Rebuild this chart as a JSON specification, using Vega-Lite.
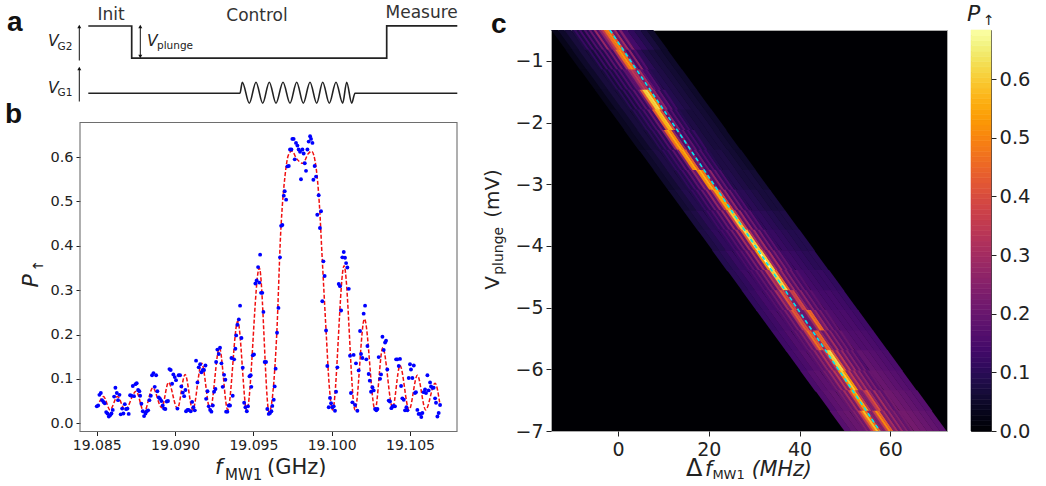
{"$schema":"https://vega.github.io/schema/vega-lite/v6.json","padding":{"left":5,"top":2,"right":0,"bottom":0},"bounds":"flush","spacing":24,"config":{"font":"DejaVu Sans","view":{"stroke":null},"axis":{"grid":false,"title":null,"domain":false,"labelColor":"#222","tickColor":"#222","labelFlush":false,"labelOverlap":false}},
"hconcat":[
{"width":447,"height":401.5,"resolve":{"scale":{"x":"independent","y":"independent"}},"layer":[
{"encoding":{"x":{"field":"t","type":"quantitative","axis":null,"scale":{"domain":[0,377],"range":[0,377],"nice":false,"zero":false}},"y":{"field":"v","type":"quantitative","axis":null,"scale":{"domain":[0,77.5],"range":[77.5,0],"nice":false,"zero":false}}},
"layer":[
{"data":{"values":[{"t":8.3,"v":81.5},{"t":51.7,"v":81.5},{"t":51.7,"v":49.3},{"t":306.7,"v":49.3},{"t":306.7,"v":81.7},{"t":377.3,"v":81.7}]},"mark":{"type":"line","color":"#222","strokeWidth":1.7}},
{"data":{"values":[{"t":8.3,"v":14.3},{"t":160,"v":14.3},{"t":162.3,"v":25.3},{"t":169.3,"v":4.3},{"t":176,"v":25.3},{"t":182.7,"v":4.3},{"t":189.3,"v":25.3},{"t":196,"v":4.3},{"t":203,"v":25.3},{"t":210,"v":4.3},{"t":216.7,"v":25.3},{"t":223.3,"v":4.3},{"t":230,"v":25.3},{"t":236.7,"v":4.3},{"t":242.7,"v":25.3},{"t":249.3,"v":4.3},{"t":256,"v":25.3},{"t":262.7,"v":4.3},{"t":266.7,"v":25.3},{"t":271.7,"v":4.3},{"t":275,"v":14.3},{"t":377.3,"v":14.3}]},"mark":{"type":"line","color":"#222","strokeWidth":1.6,"interpolate":"monotone"}},
{"data":{"values":[{"t":-0.7,"v":47,"v2":80},{"t":-0.7,"v":6,"v2":38},{"t":60.3,"v":51,"v2":80}]},"mark":{"type":"rule","color":"#111","strokeWidth":1},"encoding":{"y2":{"field":"v2"}}},
{"data":{"values":[{"t":-0.7,"v":81},{"t":-0.7,"v":39},{"t":60.3,"v":81}]},"mark":{"type":"point","shape":"triangle-up","filled":true,"opacity":1,"color":"#111","size":16}},
{"data":{"values":[{"t":60.3,"v":51}]},"mark":{"type":"point","shape":"triangle-down","filled":true,"opacity":1,"color":"#111","size":16}},
{"data":{"values":[{"t":31,"v":87.5,"s":"Init"},{"t":177,"v":87,"s":"Control"},{"t":341.7,"v":89.5,"s":"Measure"}]},"mark":{"type":"text","fontSize":17,"color":"#333","align":"center","baseline":"alphabetic"},"encoding":{"text":{"field":"s"}}},
{"data":{"values":[{"t":-32,"v":62,"s":"V"},{"t":-32,"v":15,"s":"V"},{"t":67,"v":62,"s":"V"}]},"mark":{"type":"text","fontSize":15.5,"fontStyle":"italic","color":"#222","align":"left","baseline":"alphabetic"},"encoding":{"text":{"field":"s"}}},
{"data":{"values":[{"t":-22.5,"v":58,"s":"G2"},{"t":-22.5,"v":12,"s":"G1"},{"t":77,"v":58.5,"s":"plunge"}]},"mark":{"type":"text","fontSize":10.5,"color":"#222","align":"left","baseline":"alphabetic"},"encoding":{"text":{"field":"s"}}},
{"data":{"values":[{"t":-73,"v":77,"s":"a"},{"t":-75,"v":-15,"s":"b"}]},"mark":{"type":"text","fontSize":28,"font":"Liberation Sans","fontWeight":"bold","color":"#111","align":"left","baseline":"alphabetic"},"encoding":{"text":{"field":"s"}}}
]},
{"encoding":{"x":{"field":"f","type":"quantitative","scale":{"domain":[19.08393,19.108],"range":[0,377],"nice":false,"zero":false},"axis":{"orient":"bottom","values":[19.085,19.09,19.095,19.1,19.105],"format":".3f","labelFontSize":14,"tickSize":4,"labelPadding":3}},"y":{"field":"p","type":"quantitative","scale":{"domain":[-0.0187,0.678],"range":[401.5,92.5],"nice":false,"zero":false},"axis":{"orient":"left","values":[0,0.1,0.2,0.3,0.4,0.5,0.6],"format":".1f","labelFontSize":14.5,"tickSize":4,"labelPadding":3}}},
"layer":[
{"data":{"values":[{"f":19.08393,"f2":19.108,"p":-0.0187,"p2":0.678}]},"mark":{"type":"rect","fill":null,"stroke":"#6e6e6e","strokeWidth":1.1},"encoding":{"x2":{"field":"f2"},"y2":{"field":"p2"}}},
{"data":{"values":[{"f":19.08517,"p":0.048},{"f":19.08543,"p":0.06},{"f":19.08585,"p":0.03},{"f":19.08632,"p":0.06},{"f":19.08681,"p":0.03},{"f":19.08751,"p":0.072},{"f":19.08802,"p":0.025},{"f":19.08858,"p":0.08},{"f":19.08915,"p":0.035},{"f":19.08958,"p":0.092},{"f":19.09015,"p":0.033},{"f":19.09064,"p":0.11},{"f":19.09113,"p":0.03},{"f":19.0917,"p":0.135},{"f":19.09224,"p":0.03},{"f":19.09283,"p":0.17},{"f":19.09336,"p":0.03},{"f":19.094,"p":0.23},{"f":19.09458,"p":0.028},{"f":19.09538,"p":0.35},{"f":19.096,"p":0.025},{"f":19.09649,"p":0.2},{"f":19.09674,"p":0.427},{"f":19.09702,"p":0.558},{"f":19.09723,"p":0.604},{"f":19.09745,"p":0.614},{"f":19.09777,"p":0.596},{"f":19.09815,"p":0.586},{"f":19.09851,"p":0.608},{"f":19.09872,"p":0.613},{"f":19.099,"p":0.577},{"f":19.09921,"p":0.495},{"f":19.0994,"p":0.367},{"f":19.09964,"p":0.209},{"f":19.09985,"p":0.081},{"f":19.10006,"p":0.03},{"f":19.10079,"p":0.355},{"f":19.10149,"p":0.03},{"f":19.10209,"p":0.235},{"f":19.10277,"p":0.03},{"f":19.10326,"p":0.17},{"f":19.10389,"p":0.035},{"f":19.10436,"p":0.13},{"f":19.10494,"p":0.03},{"f":19.10547,"p":0.108},{"f":19.106,"p":0.03},{"f":19.1066,"p":0.09},{"f":19.10692,"p":0.04}]},"mark":{"type":"line","color":"#f01010","strokeWidth":1.5,"strokeDash":[4,2],"interpolate":"monotone"}},
{"data":{"values":[{"f":19.085,"p":0.038},{"f":19.08509,"p":0.04},{"f":19.08517,"p":0.064},{"f":19.08526,"p":0.068},{"f":19.08534,"p":0.052},{"f":19.08543,"p":0.048},{"f":19.08551,"p":0.045},{"f":19.0856,"p":0.025},{"f":19.08568,"p":0.022},{"f":19.08577,"p":0.015},{"f":19.08585,"p":0.018},{"f":19.08594,"p":0.022},{"f":19.08602,"p":0.03},{"f":19.08611,"p":0.06},{"f":19.08619,"p":0.08},{"f":19.08628,"p":0.068},{"f":19.08636,"p":0.052},{"f":19.08645,"p":0.064},{"f":19.08653,"p":0.02},{"f":19.08662,"p":0.033},{"f":19.0867,"p":0.022},{"f":19.08679,"p":0.043},{"f":19.08687,"p":0.032},{"f":19.08696,"p":0.033},{"f":19.08704,"p":0.021},{"f":19.08713,"p":0.063},{"f":19.08721,"p":0.062},{"f":19.0873,"p":0.084},{"f":19.08738,"p":0.061},{"f":19.08747,"p":0.088},{"f":19.08755,"p":0.09},{"f":19.08764,"p":0.075},{"f":19.08772,"p":0.072},{"f":19.08777,"p":0.062},{"f":19.08785,"p":0.044},{"f":19.08794,"p":0.027},{"f":19.08802,"p":0.016},{"f":19.08811,"p":0.022},{"f":19.08819,"p":0.027},{"f":19.08828,"p":0.029},{"f":19.08836,"p":0.052},{"f":19.08845,"p":0.062},{"f":19.08853,"p":0.108},{"f":19.08862,"p":0.113},{"f":19.0887,"p":0.082},{"f":19.08879,"p":0.108},{"f":19.08887,"p":0.072},{"f":19.08896,"p":0.058},{"f":19.08904,"p":0.055},{"f":19.08913,"p":0.05},{"f":19.08921,"p":0.04},{"f":19.0893,"p":0.033},{"f":19.08938,"p":0.032},{"f":19.08947,"p":0.049},{"f":19.08955,"p":0.05},{"f":19.08964,"p":0.122},{"f":19.08972,"p":0.12},{"f":19.08981,"p":0.089},{"f":19.08989,"p":0.11},{"f":19.08998,"p":0.104},{"f":19.09006,"p":0.097},{"f":19.09015,"p":0.033},{"f":19.09023,"p":0.108},{"f":19.09032,"p":0.108},{"f":19.0904,"p":0.083},{"f":19.09049,"p":0.069},{"f":19.09058,"p":0.061},{"f":19.09066,"p":0.075},{"f":19.0907,"p":0.027},{"f":19.09079,"p":0.03},{"f":19.09087,"p":0.03},{"f":19.091,"p":0.027},{"f":19.09109,"p":0.048},{"f":19.09117,"p":0.036},{"f":19.09126,"p":0.029},{"f":19.09134,"p":0.141},{"f":19.09143,"p":0.092},{"f":19.09151,"p":0.126},{"f":19.0916,"p":0.133},{"f":19.09168,"p":0.115},{"f":19.09177,"p":0.12},{"f":19.09185,"p":0.12},{"f":19.09194,"p":0.13},{"f":19.09198,"p":0.055},{"f":19.09207,"p":0.072},{"f":19.09215,"p":0.038},{"f":19.09224,"p":0.03},{"f":19.09232,"p":0.026},{"f":19.09241,"p":0.04},{"f":19.09249,"p":0.071},{"f":19.09258,"p":0.077},{"f":19.09262,"p":0.138},{"f":19.0927,"p":0.166},{"f":19.09279,"p":0.156},{"f":19.09287,"p":0.17},{"f":19.09296,"p":0.135},{"f":19.09304,"p":0.082},{"f":19.09313,"p":0.109},{"f":19.09321,"p":0.098},{"f":19.09326,"p":0.026},{"f":19.09334,"p":0.026},{"f":19.09343,"p":0.04},{"f":19.09351,"p":0.04},{"f":19.0936,"p":0.147},{"f":19.09368,"p":0.062},{"f":19.09377,"p":0.144},{"f":19.09385,"p":0.168},{"f":19.0939,"p":0.198},{"f":19.09398,"p":0.222},{"f":19.09407,"p":0.234},{"f":19.09415,"p":0.265},{"f":19.09424,"p":0.192},{"f":19.09432,"p":0.125},{"f":19.09441,"p":0.046},{"f":19.09449,"p":0.036},{"f":19.09458,"p":0.027},{"f":19.09466,"p":0.038},{"f":19.09475,"p":0.106},{"f":19.09483,"p":0.108},{"f":19.09487,"p":0.082},{"f":19.09496,"p":0.153},{"f":19.09504,"p":0.155},{"f":19.09513,"p":0.315},{"f":19.09521,"p":0.322},{"f":19.0953,"p":0.352},{"f":19.09538,"p":0.317},{"f":19.09543,"p":0.38},{"f":19.09549,"p":0.294},{"f":19.09557,"p":0.294},{"f":19.09564,"p":0.251},{"f":19.09572,"p":0.138},{"f":19.09581,"p":0.138},{"f":19.09589,"p":0.032},{"f":19.09598,"p":0.021},{"f":19.09606,"p":0.023},{"f":19.09615,"p":0.027},{"f":19.09621,"p":0.039},{"f":19.0963,"p":0.053},{"f":19.09636,"p":0.083},{"f":19.09642,"p":0.123},{"f":19.09651,"p":0.204},{"f":19.0966,"p":0.26},{"f":19.0967,"p":0.374},{"f":19.09677,"p":0.445},{"f":19.09685,"p":0.447},{"f":19.09694,"p":0.513},{"f":19.097,"p":0.523},{"f":19.09709,"p":0.504},{"f":19.09717,"p":0.579},{"f":19.09726,"p":0.58},{"f":19.09734,"p":0.617},{"f":19.09743,"p":0.617},{"f":19.09749,"p":0.641},{"f":19.09757,"p":0.641},{"f":19.09764,"p":0.595},{"f":19.09772,"p":0.632},{"f":19.09781,"p":0.626},{"f":19.09789,"p":0.617},{"f":19.09798,"p":0.612},{"f":19.09804,"p":0.55},{"f":19.09813,"p":0.617},{"f":19.09821,"p":0.608},{"f":19.09828,"p":0.586},{"f":19.09836,"p":0.569},{"f":19.09845,"p":0.617},{"f":19.09853,"p":0.635},{"f":19.09862,"p":0.647},{"f":19.09868,"p":0.641},{"f":19.09877,"p":0.632},{"f":19.09883,"p":0.549},{"f":19.09891,"p":0.58},{"f":19.099,"p":0.556},{"f":19.09908,"p":0.47},{"f":19.09917,"p":0.514},{"f":19.09925,"p":0.44},{"f":19.09932,"p":0.478},{"f":19.0994,"p":0.275},{"f":19.09947,"p":0.365},{"f":19.09955,"p":0.332},{"f":19.09964,"p":0.209},{"f":19.09972,"p":0.129},{"f":19.09981,"p":0.036},{"f":19.09989,"p":0.057},{"f":19.09996,"p":0.045},{"f":19.10004,"p":0.036},{"f":19.10013,"p":0.038},{"f":19.10021,"p":0.028},{"f":19.10028,"p":0.071},{"f":19.10036,"p":0.126},{"f":19.10045,"p":0.314},{"f":19.10053,"p":0.309},{"f":19.1006,"p":0.254},{"f":19.10068,"p":0.374},{"f":19.10077,"p":0.386},{"f":19.10085,"p":0.373},{"f":19.10092,"p":0.361},{"f":19.101,"p":0.351},{"f":19.10109,"p":0.303},{"f":19.10117,"p":0.152},{"f":19.10123,"p":0.068},{"f":19.10132,"p":0.047},{"f":19.1014,"p":0.154},{"f":19.10149,"p":0.041},{"f":19.10155,"p":0.135},{"f":19.10164,"p":0.028},{"f":19.10172,"p":0.119},{"f":19.10181,"p":0.208},{"f":19.10187,"p":0.156},{"f":19.10196,"p":0.147},{"f":19.10204,"p":0.247},{"f":19.10213,"p":0.265},{"f":19.10221,"p":0.144},{"f":19.10228,"p":0.174},{"f":19.10236,"p":0.111},{"f":19.10243,"p":0.096},{"f":19.10251,"p":0.071},{"f":19.1026,"p":0.081},{"f":19.10268,"p":0.074},{"f":19.10277,"p":0.032},{"f":19.10285,"p":0.029},{"f":19.10292,"p":0.032},{"f":19.103,"p":0.149},{"f":19.10309,"p":0.1},{"f":19.10315,"p":0.11},{"f":19.10324,"p":0.195},{"f":19.10332,"p":0.165},{"f":19.10341,"p":0.182},{"f":19.10347,"p":0.186},{"f":19.10355,"p":0.121},{"f":19.10364,"p":0.051},{"f":19.10372,"p":0.049},{"f":19.10381,"p":0.034},{"f":19.10389,"p":0.038},{"f":19.10396,"p":0.039},{"f":19.10404,"p":0.038},{"f":19.10411,"p":0.144},{"f":19.10419,"p":0.144},{"f":19.10428,"p":0.129},{"f":19.10436,"p":0.145},{"f":19.10443,"p":0.084},{"f":19.10451,"p":0.056},{"f":19.1046,"p":0.053},{"f":19.10468,"p":0.029},{"f":19.10477,"p":0.036},{"f":19.10483,"p":0.029},{"f":19.10492,"p":0.102},{"f":19.105,"p":0.133},{"f":19.10506,"p":0.121},{"f":19.10515,"p":0.102},{"f":19.10524,"p":0.13},{"f":19.10532,"p":0.068},{"f":19.10538,"p":0.07},{"f":19.10547,"p":0.03},{"f":19.10555,"p":0.021},{"f":19.10564,"p":0.021},{"f":19.10572,"p":0.014},{"f":19.10579,"p":0.023},{"f":19.10587,"p":0.07},{"f":19.10596,"p":0.076},{"f":19.10602,"p":0.068},{"f":19.10611,"p":0.108},{"f":19.10619,"p":0.074},{"f":19.10628,"p":0.092},{"f":19.10634,"p":0.083},{"f":19.10643,"p":0.08},{"f":19.10651,"p":0.08},{"f":19.1066,"p":0.056},{"f":19.10666,"p":0.046},{"f":19.10675,"p":0.015},{"f":19.10683,"p":0.023},{"f":19.10692,"p":0.041}]},"mark":{"type":"circle","color":"#0000ff","size":15,"opacity":1}},
{"data":{"values":[{"f":19.09255,"p":-0.1135,"s":"f"}]},"mark":{"type":"text","fontSize":21,"fontStyle":"italic","color":"#222","align":"left","baseline":"alphabetic"},"encoding":{"text":{"field":"s"}}},
{"data":{"values":[{"f":19.09319,"p":-0.127,"s":"MW1"}]},"mark":{"type":"text","fontSize":15,"color":"#222","align":"left","baseline":"alphabetic"},"encoding":{"text":{"field":"s"}}},
{"data":{"values":[{"f":19.09587,"p":-0.1135,"s":"(GHz)"}]},"mark":{"type":"text","fontSize":21,"color":"#222","align":"left","baseline":"alphabetic"},"encoding":{"text":{"field":"s"}}},
{"data":{"values":[{"f":19.08125,"p":0.306,"s":"P"}]},"mark":{"type":"text","fontSize":22,"fontStyle":"italic","angle":270,"color":"#222","align":"left","baseline":"alphabetic"},"encoding":{"text":{"field":"s"}}},
{"data":{"values":[{"f":19.08157,"p":0.342,"s":"↑"}]},"mark":{"type":"text","fontSize":14,"angle":270,"color":"#222","align":"left","baseline":"alphabetic"},"encoding":{"text":{"field":"s"}}}
]}
]},
{"width":396,"height":401,"view":{"fill":"#000004","stroke":"#aaaaaa"},"encoding":{"x":{"field":"f","type":"quantitative","scale":{"domain":[-14.76,72.5],"nice":false,"zero":false},"axis":{"values":[0,20,40,60],"labelFontSize":19,"tickSize":5,"labelPadding":4}},"y":{"field":"v","type":"quantitative","scale":{"domain":[-7,-0.5],"nice":false,"zero":false},"axis":{"values":[-1,-2,-3,-4,-5,-6,-7],"format":"d","labelFontSize":19,"tickSize":5,"labelPadding":3}}},
"layer":[
{"data":{"values":[
{"f":-12.38,"v":-0.66,"p":0.03},{"f":-10.95,"v":-0.66,"p":0.05},{"f":-9.52,"v":-0.66,"p":0.07},{"f":2.91,"v":-0.66,"p":0.14},{"f":4.34,"v":-0.66,"p":0.11},{"f":5.77,"v":-0.66,"p":0.09},{"f":7.2,"v":-0.66,"p":0.07},{"f":8.63,"v":-0.66,"p":0.05},
{"f":-9.15,"v":-0.99,"p":0.03},{"f":-7.72,"v":-0.99,"p":0.05},{"f":-6.29,"v":-0.99,"p":0.07},{"f":6.14,"v":-0.99,"p":0.1},{"f":7.57,"v":-0.99,"p":0.08},{"f":9,"v":-0.99,"p":0.07},{"f":10.43,"v":-0.99,"p":0.06},{"f":11.86,"v":-0.99,"p":0.05},
{"f":-5.92,"v":-1.31,"p":0.03},{"f":-4.49,"v":-1.31,"p":0.05},{"f":-3.06,"v":-1.31,"p":0.07},{"f":9.37,"v":-1.31,"p":0.09},{"f":10.8,"v":-1.31,"p":0.08},{"f":12.23,"v":-1.31,"p":0.07},{"f":13.66,"v":-1.31,"p":0.06},{"f":15.09,"v":-1.31,"p":0.05},
{"f":-2.68,"v":-1.64,"p":0.03},{"f":-1.25,"v":-1.64,"p":0.05},{"f":0.18,"v":-1.64,"p":0.07},{"f":12.61,"v":-1.64,"p":0.09},{"f":14.04,"v":-1.64,"p":0.08},{"f":15.47,"v":-1.64,"p":0.07},{"f":16.9,"v":-1.64,"p":0.06},{"f":18.33,"v":-1.64,"p":0.05},
{"f":0.55,"v":-1.96,"p":0.04},{"f":1.98,"v":-1.96,"p":0.05},{"f":3.41,"v":-1.96,"p":0.07},{"f":15.84,"v":-1.96,"p":0.08},{"f":17.27,"v":-1.96,"p":0.07},{"f":18.7,"v":-1.96,"p":0.07},{"f":20.13,"v":-1.96,"p":0.06},{"f":21.56,"v":-1.96,"p":0.05},
{"f":3.75,"v":-2.29,"p":0.04},{"f":5.18,"v":-2.29,"p":0.05},{"f":6.61,"v":-2.29,"p":0.07},{"f":19.04,"v":-2.29,"p":0.08},{"f":20.47,"v":-2.29,"p":0.07},{"f":21.9,"v":-2.29,"p":0.07},{"f":23.33,"v":-2.29,"p":0.06},{"f":24.76,"v":-2.29,"p":0.05},
{"f":7.05,"v":-2.61,"p":0.05},{"f":8.48,"v":-2.61,"p":0.06},{"f":9.91,"v":-2.61,"p":0.08},{"f":22.34,"v":-2.61,"p":0.08},{"f":23.77,"v":-2.61,"p":0.08},{"f":25.2,"v":-2.61,"p":0.07},{"f":26.63,"v":-2.61,"p":0.06},{"f":28.06,"v":-2.61,"p":0.05},
{"f":10.25,"v":-2.94,"p":0.05},{"f":11.68,"v":-2.94,"p":0.06},{"f":13.11,"v":-2.94,"p":0.08},{"f":25.54,"v":-2.94,"p":0.09},{"f":26.97,"v":-2.94,"p":0.08},{"f":28.4,"v":-2.94,"p":0.07},{"f":29.83,"v":-2.94,"p":0.07},{"f":31.26,"v":-2.94,"p":0.06},
{"f":13.45,"v":-3.26,"p":0.06},{"f":14.88,"v":-3.26,"p":0.07},{"f":16.31,"v":-3.26,"p":0.09},{"f":28.74,"v":-3.26,"p":0.1},{"f":30.17,"v":-3.26,"p":0.09},{"f":31.6,"v":-3.26,"p":0.08},{"f":33.03,"v":-3.26,"p":0.07},{"f":34.46,"v":-3.26,"p":0.07},
{"f":16.75,"v":-3.59,"p":0.07},{"f":18.18,"v":-3.59,"p":0.08},{"f":19.61,"v":-3.59,"p":0.1},{"f":32.04,"v":-3.59,"p":0.11},{"f":33.47,"v":-3.59,"p":0.1},{"f":34.9,"v":-3.59,"p":0.09},{"f":36.33,"v":-3.59,"p":0.08},{"f":37.76,"v":-3.59,"p":0.08},
{"f":19.95,"v":-3.91,"p":0.08},{"f":21.38,"v":-3.91,"p":0.09},{"f":22.81,"v":-3.91,"p":0.11},{"f":35.24,"v":-3.91,"p":0.12},{"f":36.67,"v":-3.91,"p":0.11},{"f":38.1,"v":-3.91,"p":0.1},{"f":39.53,"v":-3.91,"p":0.09},{"f":40.96,"v":-3.91,"p":0.09},
{"f":23.15,"v":-4.24,"p":0.09},{"f":24.58,"v":-4.24,"p":0.1},{"f":26.01,"v":-4.24,"p":0.12},{"f":38.44,"v":-4.24,"p":0.13},{"f":39.87,"v":-4.24,"p":0.12},{"f":41.3,"v":-4.24,"p":0.11},{"f":42.73,"v":-4.24,"p":0.1},{"f":44.16,"v":-4.24,"p":0.1},
{"f":26.45,"v":-4.56,"p":0.1},{"f":27.88,"v":-4.56,"p":0.11},{"f":29.31,"v":-4.56,"p":0.13},{"f":41.74,"v":-4.56,"p":0.14},{"f":43.17,"v":-4.56,"p":0.13},{"f":44.6,"v":-4.56,"p":0.12},{"f":46.03,"v":-4.56,"p":0.12},{"f":47.46,"v":-4.56,"p":0.11},
{"f":29.65,"v":-4.89,"p":0.11},{"f":31.08,"v":-4.89,"p":0.12},{"f":32.51,"v":-4.89,"p":0.14},{"f":44.94,"v":-4.89,"p":0.15},{"f":46.37,"v":-4.89,"p":0.14},{"f":47.8,"v":-4.89,"p":0.14},{"f":49.23,"v":-4.89,"p":0.13},{"f":50.66,"v":-4.89,"p":0.12},
{"f":32.85,"v":-5.21,"p":0.12},{"f":34.28,"v":-5.21,"p":0.13},{"f":35.71,"v":-5.21,"p":0.15},{"f":48.14,"v":-5.21,"p":0.16},{"f":49.57,"v":-5.21,"p":0.15},{"f":51,"v":-5.21,"p":0.15},{"f":52.43,"v":-5.21,"p":0.14},{"f":53.86,"v":-5.21,"p":0.13},
{"f":36.15,"v":-5.54,"p":0.13},{"f":37.58,"v":-5.54,"p":0.14},{"f":39.01,"v":-5.54,"p":0.16},{"f":51.44,"v":-5.54,"p":0.17},{"f":52.87,"v":-5.54,"p":0.16},{"f":54.3,"v":-5.54,"p":0.16},{"f":55.73,"v":-5.54,"p":0.15},{"f":57.16,"v":-5.54,"p":0.14},
{"f":39.35,"v":-5.86,"p":0.14},{"f":40.78,"v":-5.86,"p":0.15},{"f":42.21,"v":-5.86,"p":0.17},{"f":54.64,"v":-5.86,"p":0.19},{"f":56.07,"v":-5.86,"p":0.18},{"f":57.5,"v":-5.86,"p":0.17},{"f":58.93,"v":-5.86,"p":0.16},{"f":60.36,"v":-5.86,"p":0.15},
{"f":42.55,"v":-6.19,"p":0.15},{"f":43.98,"v":-6.19,"p":0.17},{"f":45.41,"v":-6.19,"p":0.18},{"f":57.84,"v":-6.19,"p":0.2},{"f":59.27,"v":-6.19,"p":0.19},{"f":60.7,"v":-6.19,"p":0.18},{"f":62.13,"v":-6.19,"p":0.17},{"f":63.56,"v":-6.19,"p":0.16},
{"f":45.85,"v":-6.51,"p":0.16},{"f":47.28,"v":-6.51,"p":0.18},{"f":48.71,"v":-6.51,"p":0.19},{"f":61.14,"v":-6.51,"p":0.21},{"f":62.57,"v":-6.51,"p":0.2},{"f":64,"v":-6.51,"p":0.19},{"f":65.43,"v":-6.51,"p":0.18},{"f":66.86,"v":-6.51,"p":0.17},
{"f":49.05,"v":-6.84,"p":0.17},{"f":50.48,"v":-6.84,"p":0.19},{"f":51.91,"v":-6.84,"p":0.2},{"f":64.34,"v":-6.84,"p":0.22},{"f":65.77,"v":-6.84,"p":0.21},{"f":67.2,"v":-6.84,"p":0.2},{"f":68.63,"v":-6.84,"p":0.19},{"f":70.06,"v":-6.84,"p":0.18}
]},"mark":{"type":"point","shape":"M-2.215 -2.1L-0.855 -2.1L2.215 2.1L0.855 2.1Z","size":100,"filled":true,"opacity":1,"clip":true},"encoding":{"color":{"field":"p","type":"quantitative","legend":null,"scale":{"scheme":"inferno","domain":[0,0.684]}}}},
{"data":{"values":[
{"f":-8.53,"v":-0.66,"p":0.08},{"f":-7.98,"v":-0.66,"p":0.12},{"f":-7.43,"v":-0.66,"p":0.08},{"f":-6.88,"v":-0.66,"p":0.14},{"f":-6.33,"v":-0.66,"p":0.08},{"f":-5.78,"v":-0.66,"p":0.16},{"f":-5.23,"v":-0.66,"p":0.1},{"f":-4.68,"v":-0.66,"p":0.2},{"f":-4.13,"v":-0.66,"p":0.12},{"f":-3.58,"v":-0.66,"p":0.28},{"f":-3.03,"v":-0.66,"p":0.16},{"f":-2.48,"v":-0.66,"p":0.26},{"f":-1.93,"v":-0.66,"p":0.34},{"f":-1.38,"v":-0.66,"p":0.46},{"f":-0.83,"v":-0.66,"p":0.5},{"f":-0.28,"v":-0.66,"p":0.42},{"f":0.27,"v":-0.66,"p":0.2},{"f":0.82,"v":-0.66,"p":0.3},{"f":1.37,"v":-0.66,"p":0.14},{"f":1.92,"v":-0.66,"p":0.24},
{"f":-5.3,"v":-0.99,"p":0.07},{"f":-4.75,"v":-0.99,"p":0.11},{"f":-4.2,"v":-0.99,"p":0.07},{"f":-3.65,"v":-0.99,"p":0.13},{"f":-3.1,"v":-0.99,"p":0.08},{"f":-2.55,"v":-0.99,"p":0.15},{"f":-2,"v":-0.99,"p":0.09},{"f":-1.45,"v":-0.99,"p":0.18},{"f":-0.9,"v":-0.99,"p":0.11},{"f":-0.35,"v":-0.99,"p":0.22},{"f":0.2,"v":-0.99,"p":0.14},{"f":0.75,"v":-0.99,"p":0.3},{"f":1.3,"v":-0.99,"p":0.46},{"f":1.85,"v":-0.99,"p":0.52},{"f":2.4,"v":-0.99,"p":0.46},{"f":2.95,"v":-0.99,"p":0.24},{"f":3.5,"v":-0.99,"p":0.14},{"f":4.05,"v":-0.99,"p":0.26},{"f":4.6,"v":-0.99,"p":0.12},{"f":5.15,"v":-0.99,"p":0.16},
{"f":-2.07,"v":-1.31,"p":0.07},{"f":-1.52,"v":-1.31,"p":0.1},{"f":-0.97,"v":-1.31,"p":0.07},{"f":-0.42,"v":-1.31,"p":0.12},{"f":0.13,"v":-1.31,"p":0.08},{"f":0.68,"v":-1.31,"p":0.14},{"f":1.23,"v":-1.31,"p":0.09},{"f":1.78,"v":-1.31,"p":0.16},{"f":2.33,"v":-1.31,"p":0.11},{"f":2.88,"v":-1.31,"p":0.18},{"f":3.43,"v":-1.31,"p":0.18},{"f":3.98,"v":-1.31,"p":0.28},{"f":4.53,"v":-1.31,"p":0.34},{"f":5.08,"v":-1.31,"p":0.32},{"f":5.63,"v":-1.31,"p":0.22},{"f":6.18,"v":-1.31,"p":0.3},{"f":6.73,"v":-1.31,"p":0.18},{"f":7.28,"v":-1.31,"p":0.14},{"f":7.83,"v":-1.31,"p":0.16},{"f":8.38,"v":-1.31,"p":0.1},
{"f":1.17,"v":-1.64,"p":0.07},{"f":1.72,"v":-1.64,"p":0.1},{"f":2.27,"v":-1.64,"p":0.07},{"f":2.82,"v":-1.64,"p":0.12},{"f":3.37,"v":-1.64,"p":0.08},{"f":3.92,"v":-1.64,"p":0.14},{"f":4.47,"v":-1.64,"p":0.1},{"f":5.02,"v":-1.64,"p":0.18},{"f":5.57,"v":-1.64,"p":0.12},{"f":6.12,"v":-1.64,"p":0.22},{"f":6.67,"v":-1.64,"p":0.42},{"f":7.22,"v":-1.64,"p":0.6},{"f":7.77,"v":-1.64,"p":0.62},{"f":8.32,"v":-1.64,"p":0.5},{"f":8.87,"v":-1.64,"p":0.22},{"f":9.42,"v":-1.64,"p":0.26},{"f":9.97,"v":-1.64,"p":0.14},{"f":10.52,"v":-1.64,"p":0.18},{"f":11.07,"v":-1.64,"p":0.1},{"f":11.62,"v":-1.64,"p":0.13},
{"f":4.4,"v":-1.96,"p":0.07},{"f":4.95,"v":-1.96,"p":0.1},{"f":5.5,"v":-1.96,"p":0.08},{"f":6.05,"v":-1.96,"p":0.12},{"f":6.6,"v":-1.96,"p":0.09},{"f":7.15,"v":-1.96,"p":0.15},{"f":7.7,"v":-1.96,"p":0.1},{"f":8.25,"v":-1.96,"p":0.2},{"f":8.8,"v":-1.96,"p":0.14},{"f":9.35,"v":-1.96,"p":0.42},{"f":9.9,"v":-1.96,"p":0.56},{"f":10.45,"v":-1.96,"p":0.58},{"f":11,"v":-1.96,"p":0.4},{"f":11.55,"v":-1.96,"p":0.18},{"f":12.1,"v":-1.96,"p":0.24},{"f":12.65,"v":-1.96,"p":0.12},{"f":13.2,"v":-1.96,"p":0.17},{"f":13.75,"v":-1.96,"p":0.1},{"f":14.3,"v":-1.96,"p":0.13},{"f":14.85,"v":-1.96,"p":0.09},
{"f":7.6,"v":-2.29,"p":0.07},{"f":8.15,"v":-2.29,"p":0.1},{"f":8.7,"v":-2.29,"p":0.08},{"f":9.25,"v":-2.29,"p":0.12},{"f":9.8,"v":-2.29,"p":0.09},{"f":10.35,"v":-2.29,"p":0.16},{"f":10.9,"v":-2.29,"p":0.11},{"f":11.45,"v":-2.29,"p":0.26},{"f":12,"v":-2.29,"p":0.46},{"f":12.55,"v":-2.29,"p":0.55},{"f":13.1,"v":-2.29,"p":0.5},{"f":13.65,"v":-2.29,"p":0.26},{"f":14.2,"v":-2.29,"p":0.16},{"f":14.75,"v":-2.29,"p":0.25},{"f":15.3,"v":-2.29,"p":0.13},{"f":15.85,"v":-2.29,"p":0.18},{"f":16.4,"v":-2.29,"p":0.1},{"f":16.95,"v":-2.29,"p":0.14},{"f":17.5,"v":-2.29,"p":0.09},{"f":18.05,"v":-2.29,"p":0.12},
{"f":10.9,"v":-2.61,"p":0.08},{"f":11.45,"v":-2.61,"p":0.11},{"f":12,"v":-2.61,"p":0.09},{"f":12.55,"v":-2.61,"p":0.13},{"f":13.1,"v":-2.61,"p":0.1},{"f":13.65,"v":-2.61,"p":0.18},{"f":14.2,"v":-2.61,"p":0.12},{"f":14.75,"v":-2.61,"p":0.24},{"f":15.3,"v":-2.61,"p":0.5},{"f":15.85,"v":-2.61,"p":0.55},{"f":16.4,"v":-2.61,"p":0.44},{"f":16.95,"v":-2.61,"p":0.2},{"f":17.5,"v":-2.61,"p":0.26},{"f":18.05,"v":-2.61,"p":0.14},{"f":18.6,"v":-2.61,"p":0.2},{"f":19.15,"v":-2.61,"p":0.11},{"f":19.7,"v":-2.61,"p":0.16},{"f":20.25,"v":-2.61,"p":0.1},{"f":20.8,"v":-2.61,"p":0.13},{"f":21.35,"v":-2.61,"p":0.09},
{"f":14.1,"v":-2.94,"p":0.08},{"f":14.65,"v":-2.94,"p":0.11},{"f":15.2,"v":-2.94,"p":0.09},{"f":15.75,"v":-2.94,"p":0.14},{"f":16.3,"v":-2.94,"p":0.1},{"f":16.85,"v":-2.94,"p":0.18},{"f":17.4,"v":-2.94,"p":0.13},{"f":17.95,"v":-2.94,"p":0.26},{"f":18.5,"v":-2.94,"p":0.2},{"f":19.05,"v":-2.94,"p":0.5},{"f":19.6,"v":-2.94,"p":0.56},{"f":20.15,"v":-2.94,"p":0.48},{"f":20.7,"v":-2.94,"p":0.22},{"f":21.25,"v":-2.94,"p":0.16},{"f":21.8,"v":-2.94,"p":0.26},{"f":22.35,"v":-2.94,"p":0.13},{"f":22.9,"v":-2.94,"p":0.19},{"f":23.45,"v":-2.94,"p":0.11},{"f":24,"v":-2.94,"p":0.15},{"f":24.55,"v":-2.94,"p":0.09},
{"f":17.3,"v":-3.26,"p":0.09},{"f":17.85,"v":-3.26,"p":0.12},{"f":18.4,"v":-3.26,"p":0.1},{"f":18.95,"v":-3.26,"p":0.15},{"f":19.5,"v":-3.26,"p":0.11},{"f":20.05,"v":-3.26,"p":0.2},{"f":20.6,"v":-3.26,"p":0.14},{"f":21.15,"v":-3.26,"p":0.27},{"f":21.7,"v":-3.26,"p":0.18},{"f":22.25,"v":-3.26,"p":0.36},{"f":22.8,"v":-3.26,"p":0.54},{"f":23.35,"v":-3.26,"p":0.55},{"f":23.9,"v":-3.26,"p":0.38},{"f":24.45,"v":-3.26,"p":0.18},{"f":25,"v":-3.26,"p":0.27},{"f":25.55,"v":-3.26,"p":0.13},{"f":26.1,"v":-3.26,"p":0.2},{"f":26.65,"v":-3.26,"p":0.12},{"f":27.2,"v":-3.26,"p":0.16},{"f":27.75,"v":-3.26,"p":0.1},
{"f":20.6,"v":-3.59,"p":0.1},{"f":21.15,"v":-3.59,"p":0.13},{"f":21.7,"v":-3.59,"p":0.11},{"f":22.25,"v":-3.59,"p":0.16},{"f":22.8,"v":-3.59,"p":0.12},{"f":23.35,"v":-3.59,"p":0.2},{"f":23.9,"v":-3.59,"p":0.14},{"f":24.45,"v":-3.59,"p":0.28},{"f":25,"v":-3.59,"p":0.18},{"f":25.55,"v":-3.59,"p":0.38},{"f":26.1,"v":-3.59,"p":0.6},{"f":26.65,"v":-3.59,"p":0.58},{"f":27.2,"v":-3.59,"p":0.36},{"f":27.75,"v":-3.59,"p":0.18},{"f":28.3,"v":-3.59,"p":0.28},{"f":28.85,"v":-3.59,"p":0.14},{"f":29.4,"v":-3.59,"p":0.21},{"f":29.95,"v":-3.59,"p":0.13},{"f":30.5,"v":-3.59,"p":0.17},{"f":31.05,"v":-3.59,"p":0.11},
{"f":23.8,"v":-3.91,"p":0.11},{"f":24.35,"v":-3.91,"p":0.14},{"f":24.9,"v":-3.91,"p":0.12},{"f":25.45,"v":-3.91,"p":0.17},{"f":26,"v":-3.91,"p":0.13},{"f":26.55,"v":-3.91,"p":0.22},{"f":27.1,"v":-3.91,"p":0.15},{"f":27.65,"v":-3.91,"p":0.3},{"f":28.2,"v":-3.91,"p":0.2},{"f":28.75,"v":-3.91,"p":0.44},{"f":29.3,"v":-3.91,"p":0.63},{"f":29.85,"v":-3.91,"p":0.6},{"f":30.4,"v":-3.91,"p":0.32},{"f":30.95,"v":-3.91,"p":0.2},{"f":31.5,"v":-3.91,"p":0.29},{"f":32.05,"v":-3.91,"p":0.15},{"f":32.6,"v":-3.91,"p":0.22},{"f":33.15,"v":-3.91,"p":0.13},{"f":33.7,"v":-3.91,"p":0.18},{"f":34.25,"v":-3.91,"p":0.12},
{"f":27,"v":-4.24,"p":0.12},{"f":27.55,"v":-4.24,"p":0.15},{"f":28.1,"v":-4.24,"p":0.13},{"f":28.65,"v":-4.24,"p":0.18},{"f":29.2,"v":-4.24,"p":0.14},{"f":29.75,"v":-4.24,"p":0.23},{"f":30.3,"v":-4.24,"p":0.16},{"f":30.85,"v":-4.24,"p":0.3},{"f":31.4,"v":-4.24,"p":0.22},{"f":31.95,"v":-4.24,"p":0.52},{"f":32.5,"v":-4.24,"p":0.68},{"f":33.05,"v":-4.24,"p":0.6},{"f":33.6,"v":-4.24,"p":0.3},{"f":34.15,"v":-4.24,"p":0.2},{"f":34.7,"v":-4.24,"p":0.3},{"f":35.25,"v":-4.24,"p":0.16},{"f":35.8,"v":-4.24,"p":0.23},{"f":36.35,"v":-4.24,"p":0.15},{"f":36.9,"v":-4.24,"p":0.19},{"f":37.45,"v":-4.24,"p":0.13},
{"f":30.3,"v":-4.56,"p":0.13},{"f":30.85,"v":-4.56,"p":0.16},{"f":31.4,"v":-4.56,"p":0.14},{"f":31.95,"v":-4.56,"p":0.19},{"f":32.5,"v":-4.56,"p":0.15},{"f":33.05,"v":-4.56,"p":0.24},{"f":33.6,"v":-4.56,"p":0.18},{"f":34.15,"v":-4.56,"p":0.34},{"f":34.7,"v":-4.56,"p":0.3},{"f":35.25,"v":-4.56,"p":0.6},{"f":35.8,"v":-4.56,"p":0.62},{"f":36.35,"v":-4.56,"p":0.44},{"f":36.9,"v":-4.56,"p":0.2},{"f":37.45,"v":-4.56,"p":0.28},{"f":38,"v":-4.56,"p":0.17},{"f":38.55,"v":-4.56,"p":0.24},{"f":39.1,"v":-4.56,"p":0.15},{"f":39.65,"v":-4.56,"p":0.2},{"f":40.2,"v":-4.56,"p":0.14},{"f":40.75,"v":-4.56,"p":0.17},
{"f":33.5,"v":-4.89,"p":0.14},{"f":34.05,"v":-4.89,"p":0.17},{"f":34.6,"v":-4.89,"p":0.15},{"f":35.15,"v":-4.89,"p":0.21},{"f":35.7,"v":-4.89,"p":0.17},{"f":36.25,"v":-4.89,"p":0.3},{"f":36.8,"v":-4.89,"p":0.24},{"f":37.35,"v":-4.89,"p":0.42},{"f":37.9,"v":-4.89,"p":0.38},{"f":38.45,"v":-4.89,"p":0.24},{"f":39,"v":-4.89,"p":0.22},{"f":39.55,"v":-4.89,"p":0.36},{"f":40.1,"v":-4.89,"p":0.38},{"f":40.65,"v":-4.89,"p":0.24},{"f":41.2,"v":-4.89,"p":0.18},{"f":41.75,"v":-4.89,"p":0.25},{"f":42.3,"v":-4.89,"p":0.16},{"f":42.85,"v":-4.89,"p":0.21},{"f":43.4,"v":-4.89,"p":0.15},{"f":43.95,"v":-4.89,"p":0.18},
{"f":36.7,"v":-5.21,"p":0.15},{"f":37.25,"v":-5.21,"p":0.18},{"f":37.8,"v":-5.21,"p":0.16},{"f":38.35,"v":-5.21,"p":0.23},{"f":38.9,"v":-5.21,"p":0.18},{"f":39.45,"v":-5.21,"p":0.32},{"f":40,"v":-5.21,"p":0.42},{"f":40.55,"v":-5.21,"p":0.4},{"f":41.1,"v":-5.21,"p":0.26},{"f":41.65,"v":-5.21,"p":0.2},{"f":42.2,"v":-5.21,"p":0.2},{"f":42.75,"v":-5.21,"p":0.3},{"f":43.3,"v":-5.21,"p":0.46},{"f":43.85,"v":-5.21,"p":0.44},{"f":44.4,"v":-5.21,"p":0.22},{"f":44.95,"v":-5.21,"p":0.27},{"f":45.5,"v":-5.21,"p":0.17},{"f":46.05,"v":-5.21,"p":0.22},{"f":46.6,"v":-5.21,"p":0.16},{"f":47.15,"v":-5.21,"p":0.19},
{"f":40,"v":-5.54,"p":0.16},{"f":40.55,"v":-5.54,"p":0.19},{"f":41.1,"v":-5.54,"p":0.17},{"f":41.65,"v":-5.54,"p":0.24},{"f":42.2,"v":-5.54,"p":0.2},{"f":42.75,"v":-5.54,"p":0.34},{"f":43.3,"v":-5.54,"p":0.46},{"f":43.85,"v":-5.54,"p":0.42},{"f":44.4,"v":-5.54,"p":0.28},{"f":44.95,"v":-5.54,"p":0.44},{"f":45.5,"v":-5.54,"p":0.44},{"f":46.05,"v":-5.54,"p":0.26},{"f":46.6,"v":-5.54,"p":0.2},{"f":47.15,"v":-5.54,"p":0.3},{"f":47.7,"v":-5.54,"p":0.18},{"f":48.25,"v":-5.54,"p":0.25},{"f":48.8,"v":-5.54,"p":0.17},{"f":49.35,"v":-5.54,"p":0.22},{"f":49.9,"v":-5.54,"p":0.16},{"f":50.45,"v":-5.54,"p":0.2},
{"f":43.2,"v":-5.86,"p":0.17},{"f":43.75,"v":-5.86,"p":0.2},{"f":44.3,"v":-5.86,"p":0.18},{"f":44.85,"v":-5.86,"p":0.26},{"f":45.4,"v":-5.86,"p":0.2},{"f":45.95,"v":-5.86,"p":0.32},{"f":46.5,"v":-5.86,"p":0.24},{"f":47.05,"v":-5.86,"p":0.36},{"f":47.6,"v":-5.86,"p":0.6},{"f":48.15,"v":-5.86,"p":0.62},{"f":48.7,"v":-5.86,"p":0.42},{"f":49.25,"v":-5.86,"p":0.24},{"f":49.8,"v":-5.86,"p":0.34},{"f":50.35,"v":-5.86,"p":0.2},{"f":50.9,"v":-5.86,"p":0.28},{"f":51.45,"v":-5.86,"p":0.18},{"f":52,"v":-5.86,"p":0.24},{"f":52.55,"v":-5.86,"p":0.17},{"f":53.1,"v":-5.86,"p":0.21},{"f":53.65,"v":-5.86,"p":0.16},
{"f":46.4,"v":-6.19,"p":0.18},{"f":46.95,"v":-6.19,"p":0.22},{"f":47.5,"v":-6.19,"p":0.19},{"f":48.05,"v":-6.19,"p":0.28},{"f":48.6,"v":-6.19,"p":0.21},{"f":49.15,"v":-6.19,"p":0.34},{"f":49.7,"v":-6.19,"p":0.26},{"f":50.25,"v":-6.19,"p":0.5},{"f":50.8,"v":-6.19,"p":0.6},{"f":51.35,"v":-6.19,"p":0.52},{"f":51.9,"v":-6.19,"p":0.26},{"f":52.45,"v":-6.19,"p":0.34},{"f":53,"v":-6.19,"p":0.22},{"f":53.55,"v":-6.19,"p":0.3},{"f":54.1,"v":-6.19,"p":0.2},{"f":54.65,"v":-6.19,"p":0.26},{"f":55.2,"v":-6.19,"p":0.18},{"f":55.75,"v":-6.19,"p":0.23},{"f":56.3,"v":-6.19,"p":0.17},{"f":56.85,"v":-6.19,"p":0.2},
{"f":49.7,"v":-6.51,"p":0.19},{"f":50.25,"v":-6.51,"p":0.23},{"f":50.8,"v":-6.51,"p":0.2},{"f":51.35,"v":-6.51,"p":0.3},{"f":51.9,"v":-6.51,"p":0.22},{"f":52.45,"v":-6.51,"p":0.38},{"f":53,"v":-6.51,"p":0.52},{"f":53.55,"v":-6.51,"p":0.56},{"f":54.1,"v":-6.51,"p":0.36},{"f":54.65,"v":-6.51,"p":0.24},{"f":55.2,"v":-6.51,"p":0.24},{"f":55.75,"v":-6.51,"p":0.34},{"f":56.3,"v":-6.51,"p":0.4},{"f":56.85,"v":-6.51,"p":0.28},{"f":57.4,"v":-6.51,"p":0.2},{"f":57.95,"v":-6.51,"p":0.3},{"f":58.5,"v":-6.51,"p":0.2},{"f":59.05,"v":-6.51,"p":0.24},{"f":59.6,"v":-6.51,"p":0.18},{"f":60.15,"v":-6.51,"p":0.22},
{"f":52.9,"v":-6.84,"p":0.2},{"f":53.45,"v":-6.84,"p":0.24},{"f":54,"v":-6.84,"p":0.21},{"f":54.55,"v":-6.84,"p":0.34},{"f":55.1,"v":-6.84,"p":0.46},{"f":55.65,"v":-6.84,"p":0.58},{"f":56.2,"v":-6.84,"p":0.46},{"f":56.75,"v":-6.84,"p":0.26},{"f":57.3,"v":-6.84,"p":0.24},{"f":57.85,"v":-6.84,"p":0.36},{"f":58.4,"v":-6.84,"p":0.5},{"f":58.95,"v":-6.84,"p":0.44},{"f":59.5,"v":-6.84,"p":0.24},{"f":60.05,"v":-6.84,"p":0.3},{"f":60.6,"v":-6.84,"p":0.2},{"f":61.15,"v":-6.84,"p":0.28},{"f":61.7,"v":-6.84,"p":0.2},{"f":62.25,"v":-6.84,"p":0.24},{"f":62.8,"v":-6.84,"p":0.19},{"f":63.35,"v":-6.84,"p":0.22}
]},"mark":{"type":"point","shape":"M-1.734 -2.1L-1.134 -2.1L1.734 2.1L1.134 2.1Z","size":100,"filled":true,"opacity":1,"clip":true},"encoding":{"color":{"field":"p","type":"quantitative","legend":null,"scale":{"scheme":"inferno","domain":[0,0.684]}}}},
{"data":{"values":[{"f":-1.8,"v":-0.5},{"f":57.7,"v":-7}]},"mark":{"type":"line","color":"#00e8f0","strokeWidth":1.6,"strokeDash":[4,3],"clip":true}},
{"data":{"values":[{"f":-28,"v":-0.55,"s":"c"}]},"mark":{"type":"text","fontSize":28,"font":"Liberation Sans","fontWeight":"bold","color":"#111","align":"left","baseline":"alphabetic"},"encoding":{"text":{"field":"s"}}},
{"data":{"values":[{"f":14.98,"v":-7.737,"s":"Δ"}]},"mark":{"type":"text","fontSize":24,"color":"#222","align":"left","baseline":"alphabetic"},"encoding":{"text":{"field":"s"}}},
{"data":{"values":[{"f":19.16,"v":-7.737,"s":"f"},{"f":29.5,"v":-7.737,"s":"(MHz)"}]},"mark":{"type":"text","fontSize":20.5,"fontStyle":"italic","color":"#222","align":"left","baseline":"alphabetic"},"encoding":{"text":{"field":"s"}}},
{"data":{"values":[{"f":20.8,"v":-7.785,"s":"MW1"}]},"mark":{"type":"text","fontSize":13,"color":"#222","align":"left","baseline":"alphabetic"},"encoding":{"text":{"field":"s"}}},
{"data":{"values":[{"f":-26.2,"v":-4.71,"s":"V"},{"f":-26.2,"v":-3.545,"s":"(mV)"}]},"mark":{"type":"text","fontSize":20,"angle":270,"color":"#222","align":"left","baseline":"alphabetic"},"encoding":{"text":{"field":"s"}}},
{"data":{"values":[{"f":-25.3,"v":-4.468,"s":"plunge"}]},"mark":{"type":"text","fontSize":14,"angle":270,"color":"#222","align":"left","baseline":"alphabetic"},"encoding":{"text":{"field":"s"}}}
]},
{"width":20,"height":401,"view":{"stroke":"#444444"},"layer":[
{"data":{"values":[{"lo":0,"hi":0.009,"p":0.005},{"lo":0.009,"hi":0.018,"p":0.014},{"lo":0.018,"hi":0.027,"p":0.023},{"lo":0.027,"hi":0.036,"p":0.032},{"lo":0.036,"hi":0.045,"p":0.041},{"lo":0.045,"hi":0.054,"p":0.05},{"lo":0.054,"hi":0.063,"p":0.059},{"lo":0.063,"hi":0.072,"p":0.068},{"lo":0.072,"hi":0.081,"p":0.077},{"lo":0.081,"hi":0.09,"p":0.086},{"lo":0.09,"hi":0.099,"p":0.095},{"lo":0.099,"hi":0.108,"p":0.104},{"lo":0.108,"hi":0.117,"p":0.113},{"lo":0.117,"hi":0.126,"p":0.122},{"lo":0.126,"hi":0.135,"p":0.131},{"lo":0.135,"hi":0.144,"p":0.14},{"lo":0.144,"hi":0.153,"p":0.149},{"lo":0.153,"hi":0.162,"p":0.158},{"lo":0.162,"hi":0.171,"p":0.167},{"lo":0.171,"hi":0.18,"p":0.176},{"lo":0.18,"hi":0.189,"p":0.185},{"lo":0.189,"hi":0.198,"p":0.194},{"lo":0.198,"hi":0.207,"p":0.203},{"lo":0.207,"hi":0.216,"p":0.212},{"lo":0.216,"hi":0.225,"p":0.221},{"lo":0.225,"hi":0.234,"p":0.23},{"lo":0.234,"hi":0.243,"p":0.239},{"lo":0.243,"hi":0.252,"p":0.248},{"lo":0.252,"hi":0.261,"p":0.257},{"lo":0.261,"hi":0.27,"p":0.266},{"lo":0.27,"hi":0.279,"p":0.275},{"lo":0.279,"hi":0.288,"p":0.284},{"lo":0.288,"hi":0.297,"p":0.293},{"lo":0.297,"hi":0.306,"p":0.302},{"lo":0.306,"hi":0.315,"p":0.311},{"lo":0.315,"hi":0.324,"p":0.32},{"lo":0.324,"hi":0.333,"p":0.329},{"lo":0.333,"hi":0.342,"p":0.338},{"lo":0.342,"hi":0.351,"p":0.347},{"lo":0.351,"hi":0.36,"p":0.356},{"lo":0.36,"hi":0.369,"p":0.365},{"lo":0.369,"hi":0.378,"p":0.374},{"lo":0.378,"hi":0.387,"p":0.383},{"lo":0.387,"hi":0.396,"p":0.392},{"lo":0.396,"hi":0.405,"p":0.401},{"lo":0.405,"hi":0.414,"p":0.41},{"lo":0.414,"hi":0.423,"p":0.419},{"lo":0.423,"hi":0.432,"p":0.428},{"lo":0.432,"hi":0.441,"p":0.437},{"lo":0.441,"hi":0.45,"p":0.446},{"lo":0.45,"hi":0.459,"p":0.455},{"lo":0.459,"hi":0.468,"p":0.464},{"lo":0.468,"hi":0.477,"p":0.473},{"lo":0.477,"hi":0.486,"p":0.482},{"lo":0.486,"hi":0.495,"p":0.491},{"lo":0.495,"hi":0.504,"p":0.5},{"lo":0.504,"hi":0.513,"p":0.509},{"lo":0.513,"hi":0.522,"p":0.518},{"lo":0.522,"hi":0.531,"p":0.527},{"lo":0.531,"hi":0.54,"p":0.536},{"lo":0.54,"hi":0.549,"p":0.545},{"lo":0.549,"hi":0.558,"p":0.554},{"lo":0.558,"hi":0.567,"p":0.563},{"lo":0.567,"hi":0.576,"p":0.572},{"lo":0.576,"hi":0.585,"p":0.581},{"lo":0.585,"hi":0.594,"p":0.59},{"lo":0.594,"hi":0.603,"p":0.599},{"lo":0.603,"hi":0.612,"p":0.608},{"lo":0.612,"hi":0.621,"p":0.617},{"lo":0.621,"hi":0.63,"p":0.626},{"lo":0.63,"hi":0.639,"p":0.635},{"lo":0.639,"hi":0.648,"p":0.644},{"lo":0.648,"hi":0.657,"p":0.653},{"lo":0.657,"hi":0.666,"p":0.662},{"lo":0.666,"hi":0.675,"p":0.671},{"lo":0.675,"hi":0.684,"p":0.68}]},"mark":{"type":"rect","strokeWidth":0.6},"encoding":{"y":{"field":"lo","type":"quantitative","scale":{"domain":[0,0.684],"nice":false,"zero":false},"axis":{"orient":"right","values":[0,0.1,0.2,0.3,0.4,0.5,0.6],"format":".1f","labelFontSize":19.5,"tickSize":5,"labelPadding":3}},"y2":{"field":"hi"},"fill":{"field":"p","type":"quantitative","legend":null,"scale":{"scheme":"inferno","domain":[0,0.684]}},"stroke":{"field":"p","type":"quantitative","legend":null,"scale":{"scheme":"inferno","domain":[0,0.684]}}}},
{"data":{"values":[{"q":-0.2,"lo":0.699,"s":"P"}]},"mark":{"type":"text","fontSize":22,"fontStyle":"italic","color":"#222","align":"left","baseline":"alphabetic"},"encoding":{"x":{"field":"q","type":"quantitative","axis":null,"scale":{"domain":[0,1],"nice":false,"zero":false}},"y":{"field":"lo","type":"quantitative"},"text":{"field":"s"}}},
{"data":{"values":[{"q":0.6,"lo":0.693,"s":"↑"}]},"mark":{"type":"text","fontSize":14,"color":"#222","align":"left","baseline":"alphabetic"},"encoding":{"x":{"field":"q","type":"quantitative"},"y":{"field":"lo","type":"quantitative"},"text":{"field":"s"}}}
]}
]}
